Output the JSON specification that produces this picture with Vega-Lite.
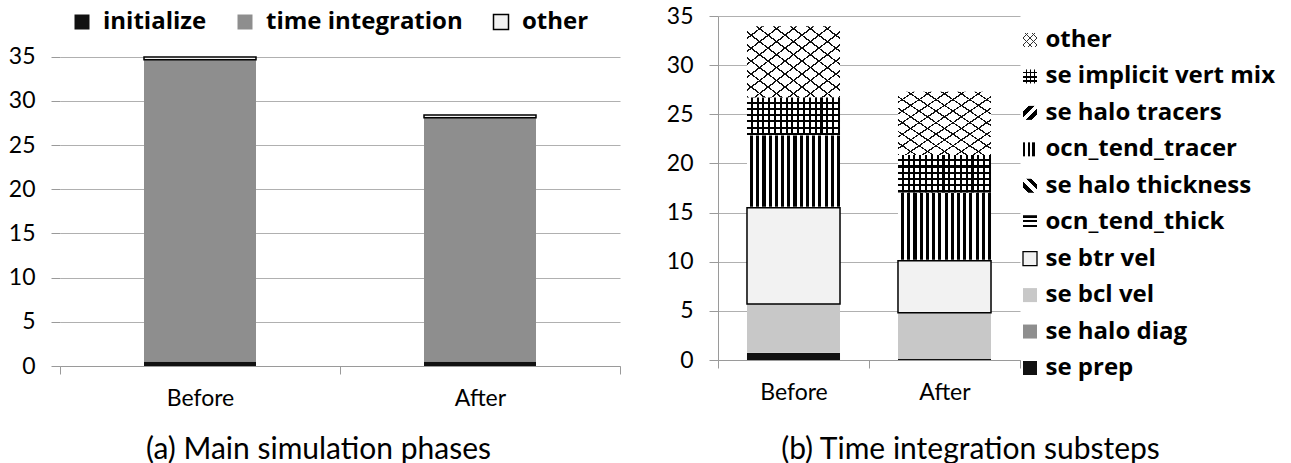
{
  "$schema": "https://vega.github.io/schema/vega-lite/v6.json",
  "padding": {"left": 8, "top": 5, "right": 0, "bottom": 0},
  "datasets": {
    "main": [
      {"run": "Before", "phase": "initialize", "t": 0.5, "ord": 0},
      {"run": "Before", "phase": "time integration", "t": 34.15, "ord": 1},
      {"run": "Before", "phase": "other", "t": 0.3, "ord": 2},
      {"run": "After", "phase": "initialize", "t": 0.5, "ord": 0},
      {"run": "After", "phase": "time integration", "t": 27.6, "ord": 1},
      {"run": "After", "phase": "other", "t": 0.3, "ord": 2}
    ],
    "sub": [
      {"run": "Before", "phase": "se prep", "t": 0.7, "ord": 0},
      {"run": "Before", "phase": "se halo diag", "t": 0.05, "ord": 1},
      {"run": "Before", "phase": "se bcl vel", "t": 4.95, "ord": 2},
      {"run": "Before", "phase": "se btr vel", "t": 9.8, "ord": 3},
      {"run": "Before", "phase": "ocn_tend_thick", "t": 0.05, "ord": 4},
      {"run": "Before", "phase": "se halo thickness", "t": 0.05, "ord": 5},
      {"run": "Before", "phase": "ocn_tend_tracer", "t": 7.25, "ord": 6},
      {"run": "Before", "phase": "se halo tracers", "t": 0.05, "ord": 7},
      {"run": "Before", "phase": "se implicit vert mix", "t": 3.8, "ord": 8},
      {"run": "Before", "phase": "other", "t": 7.25, "ord": 9},
      {"run": "After", "phase": "se prep", "t": 0.1, "ord": 0},
      {"run": "After", "phase": "se halo diag", "t": 0.05, "ord": 1},
      {"run": "After", "phase": "se bcl vel", "t": 4.65, "ord": 2},
      {"run": "After", "phase": "se btr vel", "t": 5.3, "ord": 3},
      {"run": "After", "phase": "ocn_tend_thick", "t": 0.05, "ord": 4},
      {"run": "After", "phase": "se halo thickness", "t": 0.05, "ord": 5},
      {"run": "After", "phase": "ocn_tend_tracer", "t": 6.8, "ord": 6},
      {"run": "After", "phase": "se halo tracers", "t": 0.05, "ord": 7},
      {"run": "After", "phase": "se implicit vert mix", "t": 3.8, "ord": 8},
      {"run": "After", "phase": "other", "t": 6.45, "ord": 9}
    ],
    "leg": [
      {"phase": "other"},
      {"phase": "se implicit vert mix"},
      {"phase": "se halo tracers"},
      {"phase": "ocn_tend_tracer"},
      {"phase": "se halo thickness"},
      {"phase": "ocn_tend_thick"},
      {"phase": "se btr vel"},
      {"phase": "se bcl vel"},
      {"phase": "se halo diag"},
      {"phase": "se prep"}
    ]
  },
  "resolve": {"scale": {"fill": "independent", "stroke": "independent"}},
  "bounds": "flush",
  "spacing": 98,
  "hconcat": [
    {
      "width": 560,
      "height": 350,
      "data": {"name": "main"},
      "transform": [
        {"stack": "t", "groupby": ["run"], "sort": [{"field": "ord", "order": "ascending"}], "as": ["y0", "y1"]}
      ],
      "encoding": {
        "x": {
          "field": "run", "type": "nominal", "sort": ["Before", "After"],
          "scale": {"paddingInner": 0, "paddingOuter": 0},
          "axis": {"title": "(a) Main simulation phases", "titleX": 258, "titleAlign": "center", "labelAngle": 0, "tickBand": "extent", "tickSize": 8, "labelPadding": 13, "titlePadding": 24, "grid": false}
        },
        "y": {
          "field": "y0", "type": "quantitative",
          "scale": {"domain": [0, 39.6], "nice": false},
          "axis": {"values": [0, 5, 10, 15, 20, 25, 30, 35], "title": null, "domain": false, "grid": true, "tickSize": 9, "labelPadding": 16}
        },
        "y2": {"field": "y1"}
      },
      "layer": [
        {
          "mark": {"type": "bar", "width": {"band": 0.4}, "strokeWidth": 1.5},
          "encoding": {
            "fill": {
              "field": "phase", "type": "nominal",
              "scale": {"domain": ["initialize", "time integration", "other"], "range": ["#111111", "#8e8e8e", "#f2f2f2"]},
              "legend": {"orient": "none", "legendX": 10, "legendY": -6, "direction": "horizontal", "title": null}
            },
            "stroke": {
              "field": "phase", "type": "nominal",
              "scale": {"domain": ["initialize", "time integration", "other"], "range": ["transparent", "transparent", "#000000"]},
              "legend": {"orient": "none", "legendX": 10, "legendY": -6, "direction": "horizontal", "title": null}
            }
          }
        },
        {
          "data": {"values": [{}]},
          "mark": {"type": "rule", "color": "#9a9a9a", "strokeWidth": 1},
          "encoding": {
            "x": {"datum": "Before", "type": "nominal", "bandPosition": 0},
            "y": {"datum": 0, "type": "quantitative"},
            "y2": {"datum": 35}
          }
        }
      ]
    },
    {
      "bounds": "flush",
      "spacing": 10,
      "hconcat": [
        {
          "width": 302,
          "height": 344,
          "data": {"name": "sub"},
          "transform": [
            {"stack": "t", "groupby": ["run"], "sort": [{"field": "ord", "order": "ascending"}], "as": ["y0", "y1"]}
          ],
          "encoding": {
            "x": {
              "field": "run", "type": "nominal", "sort": ["Before", "After"],
              "scale": {"paddingInner": 0, "paddingOuter": 0},
              "axis": {"title": "(b) Time integration substeps", "titleX": 252, "titleAlign": "center", "labelAngle": 0, "tickBand": "extent", "tickSize": 8, "labelPadding": 13, "titlePadding": 30, "grid": false}
            },
            "y": {
              "field": "y0", "type": "quantitative",
              "scale": {"domain": [0, 35], "nice": false},
              "axis": {"values": [0, 5, 10, 15, 20, 25, 30, 35], "title": null, "grid": true, "tickSize": 9, "labelPadding": 16}
            },
            "y2": {"field": "y1"}
          },
          "layer": [
            {
              "mark": {"type": "bar", "width": {"band": 0.616}},
              "encoding": {
                "fill": {
                  "field": "phase", "type": "nominal",
                  "scale": {
                    "domain": ["se prep", "se halo diag", "se bcl vel", "se btr vel", "ocn_tend_thick", "se halo thickness", "ocn_tend_tracer", "se halo tracers", "se implicit vert mix", "other"],
                    "range": ["#111111", "#8e8e8e", "#c8c8c8", "#f2f2f2", "#ffffff", "#ffffff", "#ffffff", "#ffffff", "#ffffff", "#ffffff"]
                  },
                  "legend": null
                }
              }
            },
            {
              "transform": [{"filter": "datum.phase === 'ocn_tend_tracer'"}],
              "mark": {"type": "bar", "width": {"band": 0.616}, "fill": {"gradient": "linear", "x1": 0, "y1": 0, "x2": 1, "y2": 0, "stops": [
                {"offset": 0, "color": "#fff"}, {"offset": 0.0333, "color": "#fff"}, {"offset": 0.0333, "color": "#000"}, {"offset": 0.0667, "color": "#000"},
                {"offset": 0.0667, "color": "#fff"}, {"offset": 0.1, "color": "#fff"}, {"offset": 0.1, "color": "#000"}, {"offset": 0.1333, "color": "#000"},
                {"offset": 0.1333, "color": "#fff"}, {"offset": 0.1667, "color": "#fff"}, {"offset": 0.1667, "color": "#000"}, {"offset": 0.2, "color": "#000"},
                {"offset": 0.2, "color": "#fff"}, {"offset": 0.2333, "color": "#fff"}, {"offset": 0.2333, "color": "#000"}, {"offset": 0.2667, "color": "#000"},
                {"offset": 0.2667, "color": "#fff"}, {"offset": 0.3, "color": "#fff"}, {"offset": 0.3, "color": "#000"}, {"offset": 0.3333, "color": "#000"},
                {"offset": 0.3333, "color": "#fff"}, {"offset": 0.3667, "color": "#fff"}, {"offset": 0.3667, "color": "#000"}, {"offset": 0.4, "color": "#000"},
                {"offset": 0.4, "color": "#fff"}, {"offset": 0.4333, "color": "#fff"}, {"offset": 0.4333, "color": "#000"}, {"offset": 0.4667, "color": "#000"},
                {"offset": 0.4667, "color": "#fff"}, {"offset": 0.5, "color": "#fff"}, {"offset": 0.5, "color": "#000"}, {"offset": 0.5333, "color": "#000"},
                {"offset": 0.5333, "color": "#fff"}, {"offset": 0.5667, "color": "#fff"}, {"offset": 0.5667, "color": "#000"}, {"offset": 0.6, "color": "#000"},
                {"offset": 0.6, "color": "#fff"}, {"offset": 0.6333, "color": "#fff"}, {"offset": 0.6333, "color": "#000"}, {"offset": 0.6667, "color": "#000"},
                {"offset": 0.6667, "color": "#fff"}, {"offset": 0.7, "color": "#fff"}, {"offset": 0.7, "color": "#000"}, {"offset": 0.7333, "color": "#000"},
                {"offset": 0.7333, "color": "#fff"}, {"offset": 0.7667, "color": "#fff"}, {"offset": 0.7667, "color": "#000"}, {"offset": 0.8, "color": "#000"},
                {"offset": 0.8, "color": "#fff"}, {"offset": 0.8333, "color": "#fff"}, {"offset": 0.8333, "color": "#000"}, {"offset": 0.8667, "color": "#000"},
                {"offset": 0.8667, "color": "#fff"}, {"offset": 0.9, "color": "#fff"}, {"offset": 0.9, "color": "#000"}, {"offset": 0.9333, "color": "#000"},
                {"offset": 0.9333, "color": "#fff"}, {"offset": 0.9667, "color": "#fff"}, {"offset": 0.9667, "color": "#000"}, {"offset": 1, "color": "#000"}
              ]}}
            },
            {
              "transform": [{"filter": "datum.phase === 'se implicit vert mix'"}],
              "mark": {"type": "bar", "width": {"band": 0.616}, "fill": {"gradient": "linear", "x1": 0, "y1": 0, "x2": 1, "y2": 0, "stops": [
                {"offset": 0, "color": "rgba(0,0,0,0)"},
                {"offset": 0.04, "color": "rgba(0,0,0,0)"}, {"offset": 0.04, "color": "#000"}, {"offset": 0.0625, "color": "#000"}, {"offset": 0.0625, "color": "rgba(0,0,0,0)"},
                {"offset": 0.1025, "color": "rgba(0,0,0,0)"}, {"offset": 0.1025, "color": "#000"}, {"offset": 0.125, "color": "#000"}, {"offset": 0.125, "color": "rgba(0,0,0,0)"},
                {"offset": 0.165, "color": "rgba(0,0,0,0)"}, {"offset": 0.165, "color": "#000"}, {"offset": 0.1875, "color": "#000"}, {"offset": 0.1875, "color": "rgba(0,0,0,0)"},
                {"offset": 0.2275, "color": "rgba(0,0,0,0)"}, {"offset": 0.2275, "color": "#000"}, {"offset": 0.25, "color": "#000"}, {"offset": 0.25, "color": "rgba(0,0,0,0)"},
                {"offset": 0.29, "color": "rgba(0,0,0,0)"}, {"offset": 0.29, "color": "#000"}, {"offset": 0.3125, "color": "#000"}, {"offset": 0.3125, "color": "rgba(0,0,0,0)"},
                {"offset": 0.3525, "color": "rgba(0,0,0,0)"}, {"offset": 0.3525, "color": "#000"}, {"offset": 0.375, "color": "#000"}, {"offset": 0.375, "color": "rgba(0,0,0,0)"},
                {"offset": 0.415, "color": "rgba(0,0,0,0)"}, {"offset": 0.415, "color": "#000"}, {"offset": 0.4375, "color": "#000"}, {"offset": 0.4375, "color": "rgba(0,0,0,0)"},
                {"offset": 0.4775, "color": "rgba(0,0,0,0)"}, {"offset": 0.4775, "color": "#000"}, {"offset": 0.5, "color": "#000"}, {"offset": 0.5, "color": "rgba(0,0,0,0)"},
                {"offset": 0.54, "color": "rgba(0,0,0,0)"}, {"offset": 0.54, "color": "#000"}, {"offset": 0.5625, "color": "#000"}, {"offset": 0.5625, "color": "rgba(0,0,0,0)"},
                {"offset": 0.6025, "color": "rgba(0,0,0,0)"}, {"offset": 0.6025, "color": "#000"}, {"offset": 0.625, "color": "#000"}, {"offset": 0.625, "color": "rgba(0,0,0,0)"},
                {"offset": 0.665, "color": "rgba(0,0,0,0)"}, {"offset": 0.665, "color": "#000"}, {"offset": 0.6875, "color": "#000"}, {"offset": 0.6875, "color": "rgba(0,0,0,0)"},
                {"offset": 0.7275, "color": "rgba(0,0,0,0)"}, {"offset": 0.7275, "color": "#000"}, {"offset": 0.75, "color": "#000"}, {"offset": 0.75, "color": "rgba(0,0,0,0)"},
                {"offset": 0.79, "color": "rgba(0,0,0,0)"}, {"offset": 0.79, "color": "#000"}, {"offset": 0.8125, "color": "#000"}, {"offset": 0.8125, "color": "rgba(0,0,0,0)"},
                {"offset": 0.8525, "color": "rgba(0,0,0,0)"}, {"offset": 0.8525, "color": "#000"}, {"offset": 0.875, "color": "#000"}, {"offset": 0.875, "color": "rgba(0,0,0,0)"},
                {"offset": 0.915, "color": "rgba(0,0,0,0)"}, {"offset": 0.915, "color": "#000"}, {"offset": 0.9375, "color": "#000"}, {"offset": 0.9375, "color": "rgba(0,0,0,0)"},
                {"offset": 0.9775, "color": "rgba(0,0,0,0)"}, {"offset": 0.9775, "color": "#000"}, {"offset": 1, "color": "#000"}
              ]}}
            },
            {
              "transform": [{"filter": "datum.phase === 'se implicit vert mix'"}],
              "mark": {"type": "bar", "width": {"band": 0.616}, "fill": {"gradient": "linear", "x1": 0, "y1": 0, "x2": 0, "y2": 1, "stops": [
                {"offset": 0, "color": "rgba(0,0,0,0)"},
                {"offset": 0.1083, "color": "rgba(0,0,0,0)"}, {"offset": 0.1083, "color": "#000"}, {"offset": 0.1667, "color": "#000"}, {"offset": 0.1667, "color": "rgba(0,0,0,0)"},
                {"offset": 0.275, "color": "rgba(0,0,0,0)"}, {"offset": 0.275, "color": "#000"}, {"offset": 0.3333, "color": "#000"}, {"offset": 0.3333, "color": "rgba(0,0,0,0)"},
                {"offset": 0.4417, "color": "rgba(0,0,0,0)"}, {"offset": 0.4417, "color": "#000"}, {"offset": 0.5, "color": "#000"}, {"offset": 0.5, "color": "rgba(0,0,0,0)"},
                {"offset": 0.6083, "color": "rgba(0,0,0,0)"}, {"offset": 0.6083, "color": "#000"}, {"offset": 0.6667, "color": "#000"}, {"offset": 0.6667, "color": "rgba(0,0,0,0)"},
                {"offset": 0.775, "color": "rgba(0,0,0,0)"}, {"offset": 0.775, "color": "#000"}, {"offset": 0.8333, "color": "#000"}, {"offset": 0.8333, "color": "rgba(0,0,0,0)"},
                {"offset": 0.9417, "color": "rgba(0,0,0,0)"}, {"offset": 0.9417, "color": "#000"}, {"offset": 1, "color": "#000"}
              ]}}
            },
            {
              "transform": [{"filter": "datum.phase === 'other'"}],
              "mark": {"type": "bar", "width": {"band": 0.616}, "fill": {"gradient": "linear", "x1": 0, "y1": 0, "x2": 1, "y2": 1, "stops": [
                {"offset": 0, "color": "rgba(0,0,0,0)"},
                {"offset": 0.0791, "color": "rgba(0,0,0,0)"}, {"offset": 0.0791, "color": "#111"}, {"offset": 0.0909, "color": "#111"}, {"offset": 0.0909, "color": "rgba(0,0,0,0)"},
                {"offset": 0.17, "color": "rgba(0,0,0,0)"}, {"offset": 0.17, "color": "#111"}, {"offset": 0.1818, "color": "#111"}, {"offset": 0.1818, "color": "rgba(0,0,0,0)"},
                {"offset": 0.2609, "color": "rgba(0,0,0,0)"}, {"offset": 0.2609, "color": "#111"}, {"offset": 0.2727, "color": "#111"}, {"offset": 0.2727, "color": "rgba(0,0,0,0)"},
                {"offset": 0.3518, "color": "rgba(0,0,0,0)"}, {"offset": 0.3518, "color": "#111"}, {"offset": 0.3636, "color": "#111"}, {"offset": 0.3636, "color": "rgba(0,0,0,0)"},
                {"offset": 0.4427, "color": "rgba(0,0,0,0)"}, {"offset": 0.4427, "color": "#111"}, {"offset": 0.4545, "color": "#111"}, {"offset": 0.4545, "color": "rgba(0,0,0,0)"},
                {"offset": 0.5336, "color": "rgba(0,0,0,0)"}, {"offset": 0.5336, "color": "#111"}, {"offset": 0.5455, "color": "#111"}, {"offset": 0.5455, "color": "rgba(0,0,0,0)"},
                {"offset": 0.6245, "color": "rgba(0,0,0,0)"}, {"offset": 0.6245, "color": "#111"}, {"offset": 0.6364, "color": "#111"}, {"offset": 0.6364, "color": "rgba(0,0,0,0)"},
                {"offset": 0.7155, "color": "rgba(0,0,0,0)"}, {"offset": 0.7155, "color": "#111"}, {"offset": 0.7273, "color": "#111"}, {"offset": 0.7273, "color": "rgba(0,0,0,0)"},
                {"offset": 0.8064, "color": "rgba(0,0,0,0)"}, {"offset": 0.8064, "color": "#111"}, {"offset": 0.8182, "color": "#111"}, {"offset": 0.8182, "color": "rgba(0,0,0,0)"},
                {"offset": 0.8973, "color": "rgba(0,0,0,0)"}, {"offset": 0.8973, "color": "#111"}, {"offset": 0.9091, "color": "#111"}, {"offset": 0.9091, "color": "rgba(0,0,0,0)"},
                {"offset": 0.9882, "color": "rgba(0,0,0,0)"}, {"offset": 0.9882, "color": "#111"}, {"offset": 1, "color": "#111"}
              ]}}
            },
            {
              "transform": [{"filter": "datum.phase === 'other'"}],
              "mark": {"type": "bar", "width": {"band": 0.616}, "fill": {"gradient": "linear", "x1": 1, "y1": 0, "x2": 0, "y2": 1, "stops": [
                {"offset": 0, "color": "rgba(0,0,0,0)"},
                {"offset": 0.0791, "color": "rgba(0,0,0,0)"}, {"offset": 0.0791, "color": "#111"}, {"offset": 0.0909, "color": "#111"}, {"offset": 0.0909, "color": "rgba(0,0,0,0)"},
                {"offset": 0.17, "color": "rgba(0,0,0,0)"}, {"offset": 0.17, "color": "#111"}, {"offset": 0.1818, "color": "#111"}, {"offset": 0.1818, "color": "rgba(0,0,0,0)"},
                {"offset": 0.2609, "color": "rgba(0,0,0,0)"}, {"offset": 0.2609, "color": "#111"}, {"offset": 0.2727, "color": "#111"}, {"offset": 0.2727, "color": "rgba(0,0,0,0)"},
                {"offset": 0.3518, "color": "rgba(0,0,0,0)"}, {"offset": 0.3518, "color": "#111"}, {"offset": 0.3636, "color": "#111"}, {"offset": 0.3636, "color": "rgba(0,0,0,0)"},
                {"offset": 0.4427, "color": "rgba(0,0,0,0)"}, {"offset": 0.4427, "color": "#111"}, {"offset": 0.4545, "color": "#111"}, {"offset": 0.4545, "color": "rgba(0,0,0,0)"},
                {"offset": 0.5336, "color": "rgba(0,0,0,0)"}, {"offset": 0.5336, "color": "#111"}, {"offset": 0.5455, "color": "#111"}, {"offset": 0.5455, "color": "rgba(0,0,0,0)"},
                {"offset": 0.6245, "color": "rgba(0,0,0,0)"}, {"offset": 0.6245, "color": "#111"}, {"offset": 0.6364, "color": "#111"}, {"offset": 0.6364, "color": "rgba(0,0,0,0)"},
                {"offset": 0.7155, "color": "rgba(0,0,0,0)"}, {"offset": 0.7155, "color": "#111"}, {"offset": 0.7273, "color": "#111"}, {"offset": 0.7273, "color": "rgba(0,0,0,0)"},
                {"offset": 0.8064, "color": "rgba(0,0,0,0)"}, {"offset": 0.8064, "color": "#111"}, {"offset": 0.8182, "color": "#111"}, {"offset": 0.8182, "color": "rgba(0,0,0,0)"},
                {"offset": 0.8973, "color": "rgba(0,0,0,0)"}, {"offset": 0.8973, "color": "#111"}, {"offset": 0.9091, "color": "#111"}, {"offset": 0.9091, "color": "rgba(0,0,0,0)"},
                {"offset": 0.9882, "color": "rgba(0,0,0,0)"}, {"offset": 0.9882, "color": "#111"}, {"offset": 1, "color": "#111"}
              ]}}
            },
            {
              "transform": [{"filter": "datum.phase === 'se btr vel'"}],
              "mark": {"type": "bar", "width": {"band": 0.616}, "fill": "transparent", "stroke": "#000", "strokeWidth": 1.5}
            }
          ]
        },
        {
          "width": 245,
          "height": 376,
          "data": {"name": "leg"},
          "encoding": {
            "y": {"field": "phase", "type": "nominal", "sort": null, "scale": {"type": "point", "padding": 0.659}, "axis": null},
            "x": {"datum": 0, "type": "quantitative", "scale": {"domain": [0, 1]}, "axis": null}
          },
          "layer": [
            {
              "mark": {"type": "square", "size": 196, "opacity": 1},
              "encoding": {
                "fill": {
                  "field": "phase", "type": "nominal",
                  "scale": {
                    "domain": ["se prep", "se halo diag", "se bcl vel", "se btr vel", "ocn_tend_thick", "se halo thickness", "ocn_tend_tracer", "se halo tracers", "se implicit vert mix", "other"],
                    "range": ["#111111", "#8e8e8e", "#c8c8c8", "#f2f2f2", "#ffffff", "#ffffff", "#ffffff", "#ffffff", "#ffffff", "#ffffff"]
                  },
                  "legend": null
                }
              }
            },
            {
              "transform": [{"filter": "datum.phase === 'ocn_tend_tracer'"}],
              "mark": {"type": "square", "size": 196, "opacity": 1, "fill": {"gradient": "linear", "x1": 0, "y1": 0, "x2": 1, "y2": 0, "stops": [
                {"offset": 0, "color": "#000"}, {"offset": 0.1667, "color": "#000"}, {"offset": 0.1667, "color": "#fff"}, {"offset": 0.3333, "color": "#fff"},
                {"offset": 0.3333, "color": "#000"}, {"offset": 0.5, "color": "#000"}, {"offset": 0.5, "color": "#fff"}, {"offset": 0.6667, "color": "#fff"},
                {"offset": 0.6667, "color": "#000"}, {"offset": 0.8333, "color": "#000"}, {"offset": 0.8333, "color": "#fff"}, {"offset": 1, "color": "#fff"}
              ]}}
            },
            {
              "transform": [{"filter": "datum.phase === 'ocn_tend_thick'"}],
              "mark": {"type": "square", "size": 196, "opacity": 1, "fill": {"gradient": "linear", "x1": 0, "y1": 0, "x2": 0, "y2": 1, "stops": [
                {"offset": 0, "color": "#000"}, {"offset": 0.1667, "color": "#000"}, {"offset": 0.1667, "color": "#fff"}, {"offset": 0.3333, "color": "#fff"},
                {"offset": 0.3333, "color": "#000"}, {"offset": 0.5, "color": "#000"}, {"offset": 0.5, "color": "#fff"}, {"offset": 0.6667, "color": "#fff"},
                {"offset": 0.6667, "color": "#000"}, {"offset": 0.8333, "color": "#000"}, {"offset": 0.8333, "color": "#fff"}, {"offset": 1, "color": "#fff"}
              ]}}
            },
            {
              "transform": [{"filter": "datum.phase === 'se halo tracers'"}],
              "mark": {"type": "square", "size": 196, "opacity": 1, "fill": {"gradient": "linear", "x1": 0, "y1": 0, "x2": 1, "y2": 1, "stops": [
                {"offset": 0, "color": "#fff"}, {"offset": 0.2, "color": "#fff"}, {"offset": 0.2, "color": "#000"}, {"offset": 0.4, "color": "#000"},
                {"offset": 0.4, "color": "#fff"}, {"offset": 0.6, "color": "#fff"}, {"offset": 0.6, "color": "#000"}, {"offset": 0.8, "color": "#000"},
                {"offset": 0.8, "color": "#fff"}, {"offset": 1, "color": "#fff"}
              ]}}
            },
            {
              "transform": [{"filter": "datum.phase === 'se halo thickness'"}],
              "mark": {"type": "square", "size": 196, "opacity": 1, "fill": {"gradient": "linear", "x1": 1, "y1": 0, "x2": 0, "y2": 1, "stops": [
                {"offset": 0, "color": "#fff"}, {"offset": 0.2, "color": "#fff"}, {"offset": 0.2, "color": "#000"}, {"offset": 0.4, "color": "#000"},
                {"offset": 0.4, "color": "#fff"}, {"offset": 0.6, "color": "#fff"}, {"offset": 0.6, "color": "#000"}, {"offset": 0.8, "color": "#000"},
                {"offset": 0.8, "color": "#fff"}, {"offset": 1, "color": "#fff"}
              ]}}
            },
            {
              "transform": [{"filter": "datum.phase === 'se implicit vert mix'"}],
              "mark": {"type": "square", "size": 196, "opacity": 1, "fill": {"gradient": "linear", "x1": 0, "y1": 0, "x2": 1, "y2": 0, "stops": [
                {"offset": 0, "color": "rgba(0,0,0,0)"}, {"offset": 0.18, "color": "rgba(0,0,0,0)"}, {"offset": 0.18, "color": "#000"}, {"offset": 0.28, "color": "#000"},
                {"offset": 0.28, "color": "rgba(0,0,0,0)"}, {"offset": 0.48, "color": "rgba(0,0,0,0)"}, {"offset": 0.48, "color": "#000"}, {"offset": 0.58, "color": "#000"},
                {"offset": 0.58, "color": "rgba(0,0,0,0)"}, {"offset": 0.78, "color": "rgba(0,0,0,0)"}, {"offset": 0.78, "color": "#000"}, {"offset": 0.88, "color": "#000"},
                {"offset": 0.88, "color": "rgba(0,0,0,0)"}, {"offset": 1, "color": "rgba(0,0,0,0)"}
              ]}}
            },
            {
              "transform": [{"filter": "datum.phase === 'se implicit vert mix'"}],
              "mark": {"type": "square", "size": 196, "opacity": 1, "fill": {"gradient": "linear", "x1": 0, "y1": 0, "x2": 0, "y2": 1, "stops": [
                {"offset": 0, "color": "rgba(0,0,0,0)"}, {"offset": 0.18, "color": "rgba(0,0,0,0)"}, {"offset": 0.18, "color": "#000"}, {"offset": 0.28, "color": "#000"},
                {"offset": 0.28, "color": "rgba(0,0,0,0)"}, {"offset": 0.48, "color": "rgba(0,0,0,0)"}, {"offset": 0.48, "color": "#000"}, {"offset": 0.58, "color": "#000"},
                {"offset": 0.58, "color": "rgba(0,0,0,0)"}, {"offset": 0.78, "color": "rgba(0,0,0,0)"}, {"offset": 0.78, "color": "#000"}, {"offset": 0.88, "color": "#000"},
                {"offset": 0.88, "color": "rgba(0,0,0,0)"}, {"offset": 1, "color": "rgba(0,0,0,0)"}
              ]}}
            },
            {
              "transform": [{"filter": "datum.phase === 'other'"}],
              "mark": {"type": "square", "size": 196, "opacity": 1, "fill": {"gradient": "linear", "x1": 0, "y1": 0, "x2": 1, "y2": 1, "stops": [
                {"offset": 0, "color": "rgba(0,0,0,0)"}, {"offset": 0.15, "color": "rgba(0,0,0,0)"}, {"offset": 0.15, "color": "#333"}, {"offset": 0.2, "color": "#333"},
                {"offset": 0.2, "color": "rgba(0,0,0,0)"}, {"offset": 0.4, "color": "rgba(0,0,0,0)"}, {"offset": 0.4, "color": "#333"}, {"offset": 0.45, "color": "#333"},
                {"offset": 0.45, "color": "rgba(0,0,0,0)"}, {"offset": 0.65, "color": "rgba(0,0,0,0)"}, {"offset": 0.65, "color": "#333"}, {"offset": 0.7, "color": "#333"},
                {"offset": 0.7, "color": "rgba(0,0,0,0)"}, {"offset": 0.9, "color": "rgba(0,0,0,0)"}, {"offset": 0.9, "color": "#333"}, {"offset": 0.95, "color": "#333"},
                {"offset": 0.95, "color": "rgba(0,0,0,0)"}, {"offset": 1, "color": "rgba(0,0,0,0)"}
              ]}}
            },
            {
              "transform": [{"filter": "datum.phase === 'other'"}],
              "mark": {"type": "square", "size": 196, "opacity": 1, "fill": {"gradient": "linear", "x1": 1, "y1": 0, "x2": 0, "y2": 1, "stops": [
                {"offset": 0, "color": "rgba(0,0,0,0)"}, {"offset": 0.15, "color": "rgba(0,0,0,0)"}, {"offset": 0.15, "color": "#333"}, {"offset": 0.2, "color": "#333"},
                {"offset": 0.2, "color": "rgba(0,0,0,0)"}, {"offset": 0.4, "color": "rgba(0,0,0,0)"}, {"offset": 0.4, "color": "#333"}, {"offset": 0.45, "color": "#333"},
                {"offset": 0.45, "color": "rgba(0,0,0,0)"}, {"offset": 0.65, "color": "rgba(0,0,0,0)"}, {"offset": 0.65, "color": "#333"}, {"offset": 0.7, "color": "#333"},
                {"offset": 0.7, "color": "rgba(0,0,0,0)"}, {"offset": 0.9, "color": "rgba(0,0,0,0)"}, {"offset": 0.9, "color": "#333"}, {"offset": 0.95, "color": "#333"},
                {"offset": 0.95, "color": "rgba(0,0,0,0)"}, {"offset": 1, "color": "rgba(0,0,0,0)"}
              ]}}
            },
            {
              "transform": [{"filter": "datum.phase === 'se btr vel'"}],
              "mark": {"type": "square", "size": 196, "opacity": 1, "filled": false, "stroke": "#000", "strokeWidth": 1.3}
            },
            {
              "mark": {"type": "text", "align": "left", "baseline": "middle", "dx": 15.5, "font": "Open Sans", "fontSize": 24, "fontWeight": "bold", "color": "#000"},
              "encoding": {"text": {"field": "phase", "type": "nominal"}}
            }
          ]
        }
      ]
    }
  ],
  "config": {
    "view": {"stroke": null},
    "font": "Lato",
    "axis": {
      "labelFont": "Lato", "labelFontSize": 23, "labelColor": "#000",
      "titleFont": "Lato", "titleFontSize": 30, "titleFontWeight": "normal", "titleColor": "#000",
      "domainColor": "#9a9a9a", "tickColor": "#9a9a9a", "gridColor": "#b0b0b0"
    },
    "legend": {
      "labelFont": "Open Sans", "labelFontSize": 24, "labelFontWeight": "bold", "labelColor": "#000", "labelLimit": 400,
      "symbolType": "square", "symbolSize": 225, "symbolStrokeWidth": 1.5, "symbolOpacity": 1,
      "labelOffset": 9, "columnPadding": 26, "padding": 0
    }
  }
}
